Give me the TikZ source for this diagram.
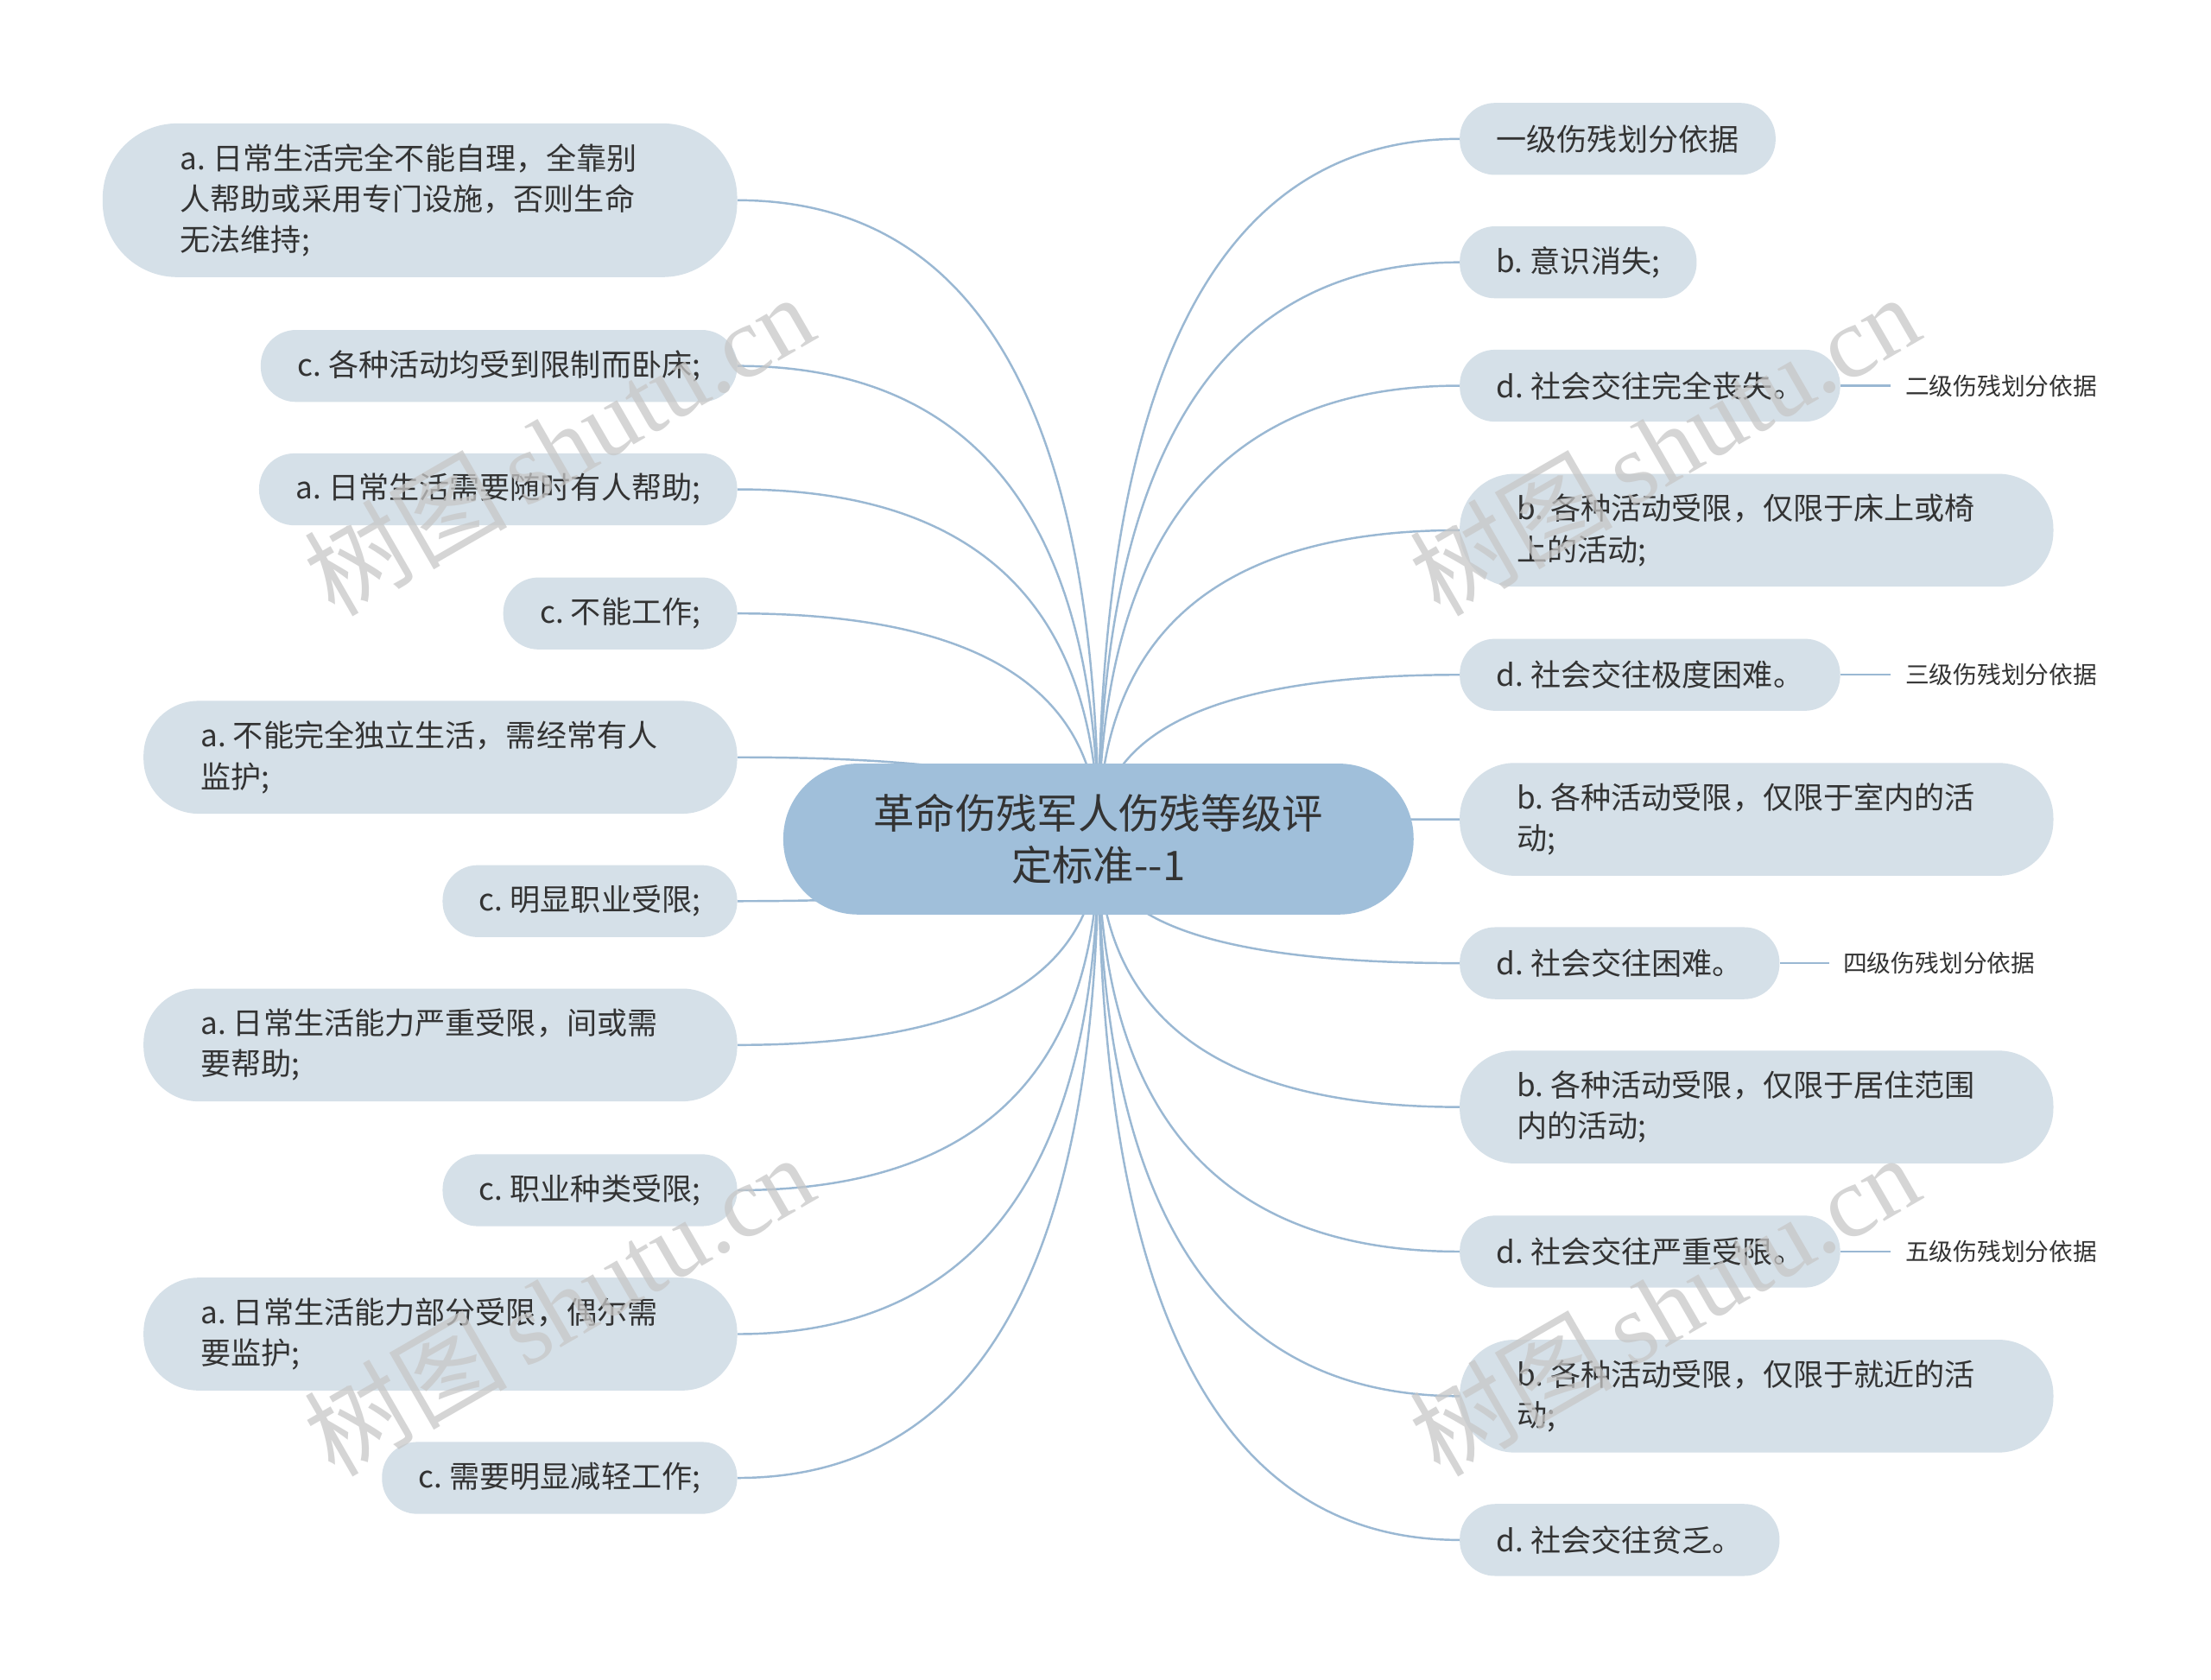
\documentclass[tikz,border=0pt]{standalone}
\usepackage{fontspec}
\setmainfont{Noto Sans CJK SC}
\newfontfamily\wmlatin{Liberation Serif}
\newfontfamily\wmcjk{Noto Sans CJK SC}
\usetikzlibrary{calc}
\definecolor{leaffill}{RGB}{213,224,232}
\definecolor{rootfill}{RGB}{160,191,218}
\definecolor{edgecol}{RGB}{154,184,211}
\definecolor{txt}{RGB}{51,51,51}
\newcommand\mysp{\hspace{5pt}}
\pgfdeclarelayer{background}
\pgfdeclarelayer{foreground}
\pgfsetlayers{background,main,foreground}
\tikzset{
  leaf/.style={fill=leaffill, draw=none, text=txt, minimum height=51pt, rounded corners=25pt,
    inner xsep=26pt, inner ysep=0pt, font=\fontsize{21.5}{29}\selectfont},
  leaftwo/.style={leaf, minimum height=80pt, rounded corners=39pt, text width=340pt, align=left, inner xsep=40.5pt},
  leafthree/.style={leaf, minimum height=109pt, rounded corners=53pt, text width=340pt, align=left, inner xsep=55pt},
  rootbox/.style={fill=rootfill, draw=none, text=txt, minimum width=447pt, minimum height=107pt,
    rounded corners=53pt, align=center, font=\fontsize{29}{37}\selectfont},
  tag/.style={text=txt, inner xsep=10pt, inner ysep=0pt, font=\fontsize{17}{20}\selectfont},
  edge/.style={draw=edgecol, line width=1.5pt},
  wm/.style={rotate=30, text=black!22, opacity=0.75, font=\fontsize{72}{72}\selectfont}
}
\begin{document}
\begin{tikzpicture}[x=1pt,y=-1pt]
\begin{pgfonlayer}{background}
\fill[white] (0,0) rectangle (1568,1191);
\end{pgfonlayer}
\useasboundingbox (0,0) rectangle (1568,1191);

\node[rootbox] (c) at (779,595) {革命伤残军人伤残等级评\\定标准-{}-1};

% left side
\node[leafthree, anchor=east] (l1) at (523,142) {a.\mysp 日常生活完全不能自理，全靠别\\人帮助或采用专门设施，否则生命\\无法维持;};
\node[leaf, anchor=east] (l2) at (523,259.5) {c.\mysp 各种活动均受到限制而卧床;};
\node[leaf, anchor=east] (l3) at (523,347) {a.\mysp 日常生活需要随时有人帮助;};
\node[leaf, anchor=east] (l4) at (523,435) {c.\mysp 不能工作;};
\node[leaftwo, anchor=east] (l5) at (523,537) {a.\mysp 不能完全独立生活，需经常有人\\监护;};
\node[leaf, anchor=east] (l6) at (523,639) {c.\mysp 明显职业受限;};
\node[leaftwo, anchor=east] (l7) at (523,741) {a.\mysp 日常生活能力严重受限，间或需\\要帮助;};
\node[leaf, anchor=east] (l8) at (523,844) {c.\mysp 职业种类受限;};
\node[leaftwo, anchor=east] (l9) at (523,946) {a.\mysp 日常生活能力部分受限，偶尔需\\要监护;};
\node[leaf, anchor=east] (l10) at (523,1048) {c.\mysp 需要明显减轻工作;};

% right side
\node[leaf, anchor=west] (r1) at (1035,98.5) {一级伤残划分依据};
\node[leaf, anchor=west] (r2) at (1035,186) {b.\mysp 意识消失;};
\node[leaf, anchor=west] (r3) at (1035,273.5) {d.\mysp 社会交往完全丧失。};
\node[leaftwo, anchor=west] (r4) at (1035,376) {b.\mysp 各种活动受限，仅限于床上或椅\\上的活动;};
\node[leaf, anchor=west] (r5) at (1035,478.5) {d.\mysp 社会交往极度困难。};
\node[leaftwo, anchor=west] (r6) at (1035,581) {b.\mysp 各种活动受限，仅限于室内的活\\动;};
\node[leaf, anchor=west] (r7) at (1035,683) {d.\mysp 社会交往困难。};
\node[leaftwo, anchor=west] (r8) at (1035,785) {b.\mysp 各种活动受限，仅限于居住范围\\内的活动;};
\node[leaf, anchor=west] (r9) at (1035,887.5) {d.\mysp 社会交往严重受限。};
\node[leaftwo, anchor=west] (r10) at (1035,990) {b.\mysp 各种活动受限，仅限于就近的活\\动;};
\node[leaf, anchor=west] (r11) at (1035,1092) {d.\mysp 社会交往贫乏。};

% tags
\node[tag, anchor=west] (t3) at (1341,273.5) {二级伤残划分依据};
\node[tag, anchor=west] (t5) at (1341,478.5) {三级伤残划分依据};
\node[tag, anchor=west] (t7) at (1297,683) {四级伤残划分依据};
\node[tag, anchor=west] (t9) at (1341,887.5) {五级伤残划分依据};

\begin{pgfonlayer}{background}
% quadratic curves from the root centre, control point at (root x, child y)
\foreach \n/\a in {l1/east,l2/east,l3/east,l4/east,l5/east,l6/east,l7/east,l8/east,l9/east,l10/east,
                   r1/west,r2/west,r3/west,r4/west,r5/west,r6/west,r7/west,r8/west,r9/west,r10/west,r11/west}
  \draw[edge] (c.center) .. controls ($(c.center)!0.6667!(c.center |- \n.\a)$) and ($(\n.\a)!0.6667!(c.center |- \n.\a)$) .. (\n.\a);
\draw[edge] (r3.east) -- (t3.west);
\draw[edge] (r5.east) -- (t5.west);
\draw[edge] (r7.east) -- (t7.west);
\draw[edge] (r9.east) -- (t9.west);
\end{pgfonlayer}

\begin{pgfonlayer}{foreground}
\node[wm] (w1) at (396,315) {\wmcjk 树图\,\wmlatin shutu.cn};
\node[wm] (w2) at (1180,315) {\wmcjk 树图\,\wmlatin shutu.cn};
\node[wm] (w3) at (396,925) {\wmcjk 树图\,\wmlatin shutu.cn};
\node[wm] (w4) at (1180,925) {\wmcjk 树图\,\wmlatin shutu.cn};
\end{pgfonlayer}
\end{tikzpicture}
\end{document}
